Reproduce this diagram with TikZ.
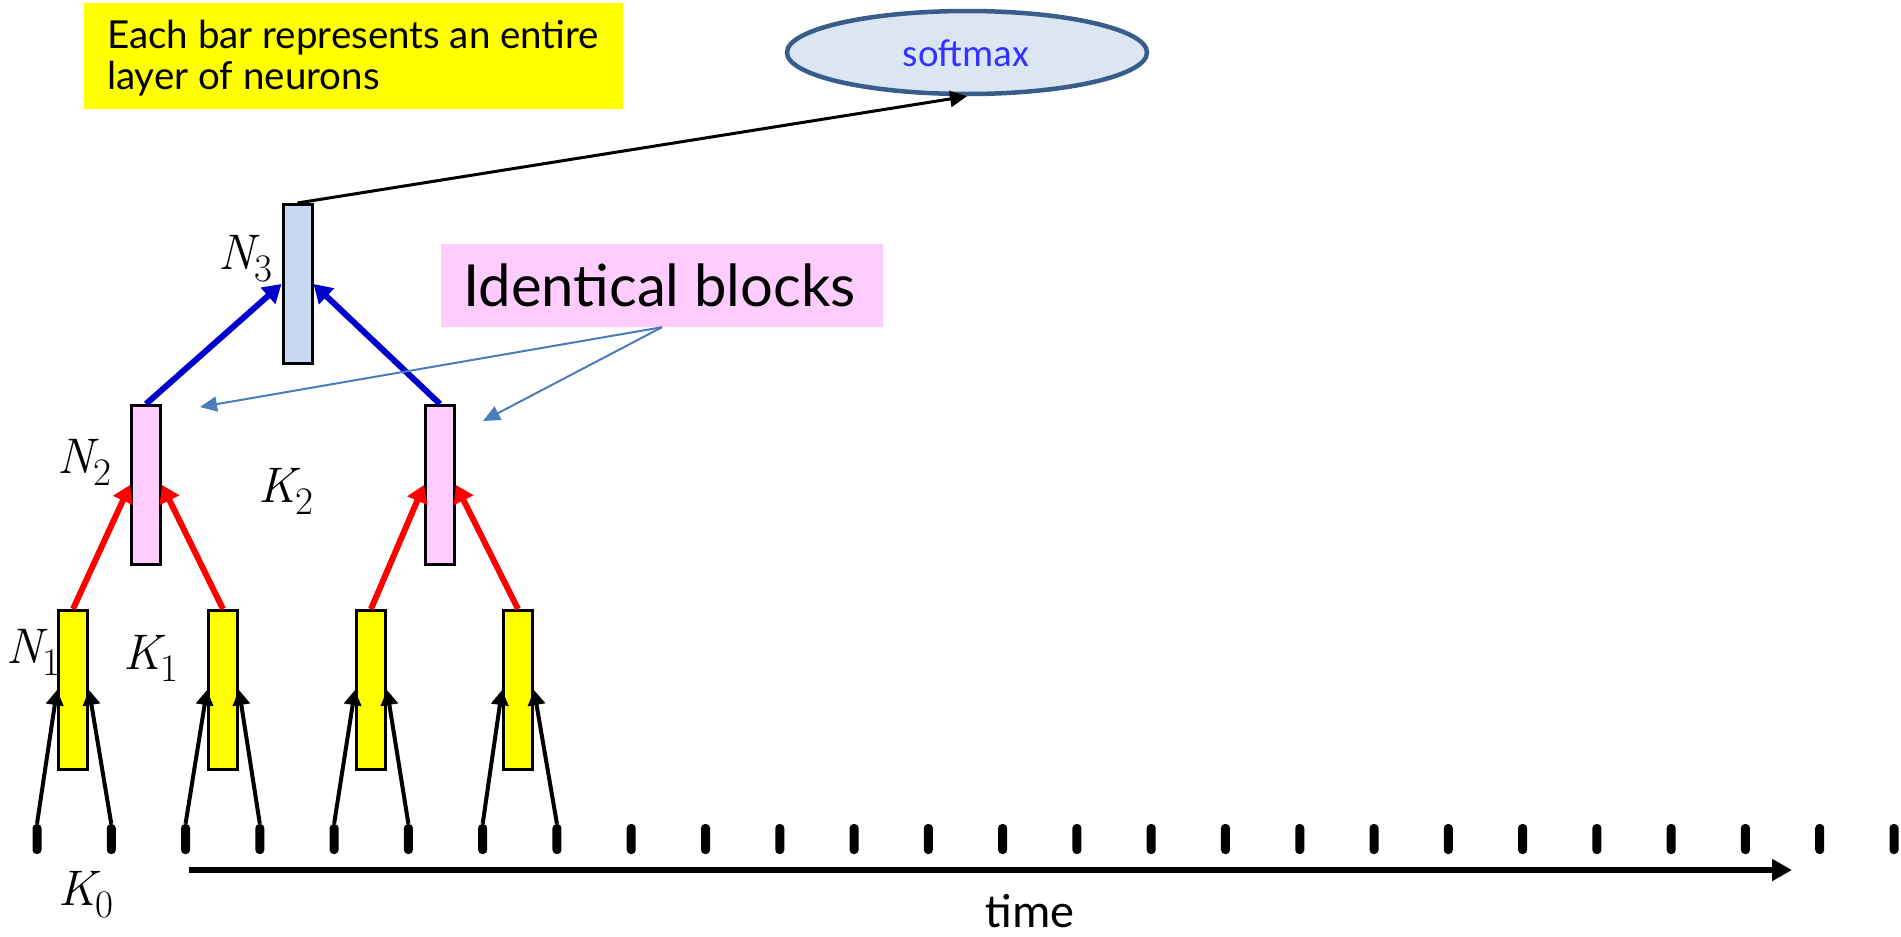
\documentclass[tikz,border=0pt]{standalone}
\usepackage{fontspec}
\usepackage{graphicx}
\newfontfamily\comicf{Lato}
\newfontfamily\calibf{Carlito}
\usetikzlibrary{arrows.meta,shapes.geometric}
\newcommand{\mlab}[2]{\textit{#1}\kern-5pt\raisebox{-12pt}{\scalebox{0.78}{#2}}}
\definecolor{barYellow}{HTML}{FFFF00}
\definecolor{barPink}{HTML}{FFCCFF}
\definecolor{barBlue}{HTML}{C6D9F1}
\definecolor{arrBlue}{HTML}{0000CC}
\definecolor{arrRed}{HTML}{FF0000}
\definecolor{thinBlue}{HTML}{4A7EBB}
\definecolor{ellBorder}{HTML}{385D8A}
\definecolor{ellFill}{HTML}{DCE6F2}
\definecolor{smText}{HTML}{3333FF}
\tikzset{
  layerbar/.style={draw=black, line width=3pt, minimum width=29pt, minimum height=159pt, inner sep=0pt},
  tickmark/.style={fill=black, rounded corners=4pt, minimum width=9pt, minimum height=30pt, inner sep=0pt},
  inarrow/.style={draw=black, line width=4pt, -{Triangle[width=17pt,length=15pt]}},
  redarrow/.style={draw=arrRed, line width=6pt, -{Triangle[width=21pt,length=17pt]}},
  bluearrow/.style={draw=arrBlue, line width=6pt, -{Triangle[width=21pt,length=18pt]}},
  thinarrow/.style={draw=thinBlue, line width=2pt, -{Triangle[width=15pt,length=17pt]}},
  mathlabel/.style={anchor=base west, inner sep=0pt, font=\fontsize{50}{60}\selectfont},
}
\begin{document}
\begin{tikzpicture}[x=1pt,y=-1pt]
\useasboundingbox (0,0) rectangle (1901,937);

% note box
\node[fill=barYellow, minimum width=539pt, minimum height=106pt, inner sep=0pt, anchor=north west] (note) at (84,3) {};
\node[anchor=base west, inner sep=0pt, font=\comicf\fontsize{38.5}{44}\selectfont] (note1) at (107,48) {Each bar represents an entire};
\node[anchor=base west, inner sep=0pt, font=\comicf\fontsize{38.5}{44}\selectfont] (note2) at (107,89) {layer of neurons};

% softmax
\node[ellipse, draw=ellBorder, line width=4.5pt, fill=ellFill, minimum width=360pt, minimum height=83pt, inner sep=0pt] (sm) at (967,52.5) {};
\node[anchor=base, inner sep=0pt, text=smText, font=\calibf\fontsize{39}{44}\selectfont] (smtext) at (966,66) {softmax};

% identical blocks
\node[fill=barPink, minimum width=442pt, minimum height=83pt, inner sep=0pt] (ident) at (662,285.5) {};
\node[anchor=base west, inner sep=0pt, font=\comicf\fontsize{58}{64}\selectfont] (identtext) at (463,306) {Identical blocks};

% bars
\node[layerbar, fill=barBlue] (n3) at (297.5,284) {};
\node[layerbar, fill=barPink] (n2a) at (146,485) {};
\node[layerbar, fill=barPink] (n2b) at (440,485) {};
\node[layerbar, fill=barYellow] (b1) at (73,690) {};
\node[layerbar, fill=barYellow] (b2) at (223,690) {};
\node[layerbar, fill=barYellow] (b3) at (371,690) {};
\node[layerbar, fill=barYellow] (b4) at (518,690) {};

% ticks
\foreach \i in {0,...,25} {
  \node[tickmark] (t\i) at ({37+74.28*\i},839) {};
}

% input arrows
\draw[inarrow] (t0.north) -- (b1.west);
\draw[inarrow] (t1.north) -- (b1.east);
\draw[inarrow] (t2.north) -- (b2.west);
\draw[inarrow] (t3.north) -- (b2.east);
\draw[inarrow] (t4.north) -- (b3.west);
\draw[inarrow] (t5.north) -- (b3.east);
\draw[inarrow] (t6.north) -- (b4.west);
\draw[inarrow] (t7.north) -- (b4.east);

% red arrows
\draw[redarrow] (b1.north) -- (n2a.west);
\draw[redarrow] (b2.north) -- (n2a.east);
\draw[redarrow] (b3.north) -- (n2b.west);
\draw[redarrow] (b4.north) -- (n2b.east);

% blue arrows
\draw[bluearrow] (n2a.north) -- (n3.west);
\draw[bluearrow] (n2b.north) -- (n3.east);

% to softmax
\draw[black, line width=3pt, -{Triangle[width=16pt,length=17pt]}] (n3.north) -- (sm.south);

% identical blocks pointers
\coordinate (pl) at (200,407);
\coordinate (pr) at (483,421);
\draw[thinarrow] (ident.south) -- (pl);
\draw[thinarrow] (ident.south) -- (pr);

% time axis
\coordinate (ts) at (189,870);
\coordinate (te) at (1792,870);
\draw[black, line width=6pt, -{Triangle[width=21pt,length=20pt]}] (ts) -- (te);
\node[anchor=base, inner sep=0pt, font=\calibf\fontsize{48}{56}\selectfont] (timelbl) at (1030,927) {time};

% labels
\node[mathlabel] (lN3) at (218,269) {\mlab{N}{3}};
\node[mathlabel] (lN2) at (57,473) {\mlab{N}{2}};
\node[mathlabel] (lK2) at (258,502) {\mlab{K}{2}};
\node[mathlabel] (lN1) at (6,663) {\mlab{N}{1}};
\node[mathlabel] (lK1) at (123,669) {\mlab{K}{1}};
\node[mathlabel] (lK0) at (58,905) {\mlab{K}{0}};
\end{tikzpicture}
\end{document}
